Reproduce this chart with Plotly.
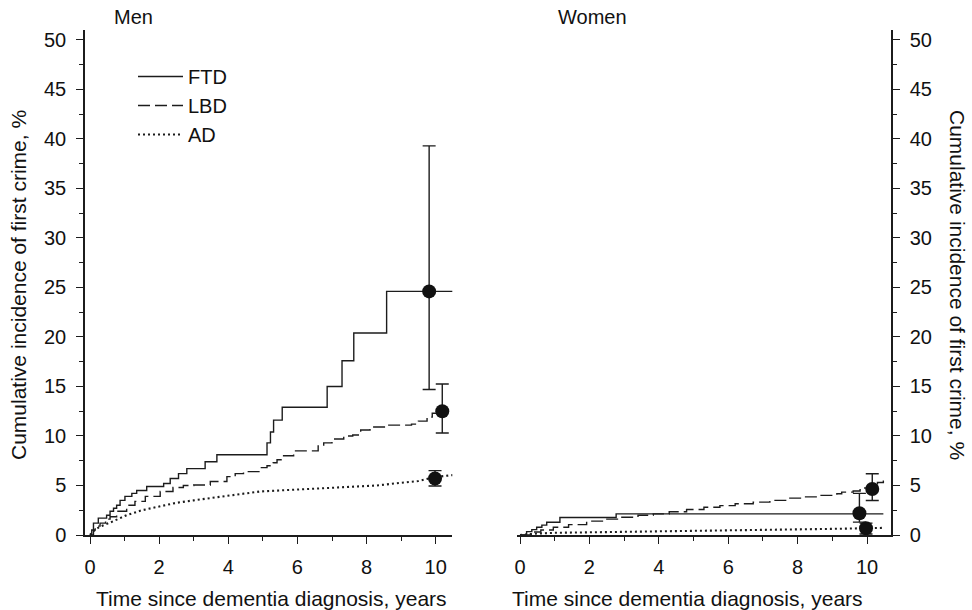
import plotly.graph_objects as go

FONT = "Liberation Sans, Arial, Helvetica, sans-serif"
INK = "#1c1c1c"

# ---------------- data ----------------
# Men, FTD (step function, Kaplan-Meier like)
men_ftd_x = [0, 0.10, 0.24, 0.48, 0.58, 0.68, 0.77, 0.87, 1.01, 1.21, 1.35, 1.64, 2.13, 2.32,
             2.56, 2.80, 3.33, 3.67, 5.12, 5.22, 5.31, 5.56, 6.86, 7.29, 7.63, 8.58, 10.50]
men_ftd_y = [0, 1.2, 1.7, 2.0, 2.4, 2.7, 3.0, 3.5, 3.9, 4.2, 4.5, 4.9, 5.2, 5.7,
             6.2, 6.7, 7.4, 8.1, 9.3, 10.4, 11.6, 12.9, 15.0, 17.6, 20.4, 24.6, 24.6]
# Men, LBD
men_lbd_x = [0, 0.05, 0.15, 0.29, 0.45, 0.58, 0.77, 1.06, 1.30, 1.60, 2.03, 2.40, 2.70, 3.00,
             3.48, 3.96, 4.20, 4.44, 4.93, 5.12, 5.30, 5.41, 5.60, 5.89, 6.38, 6.60, 6.76, 7.00,
             7.34, 7.60, 7.83, 8.10, 8.60, 9.30, 9.50, 9.75, 9.90, 10.22]
men_lbd_y = [0, 0.5, 0.9, 1.2, 1.6, 1.85, 2.4, 3.0, 3.4, 3.9, 4.4, 4.8, 5.0, 5.05,
             5.4, 5.9, 6.2, 6.4, 6.8, 7.0, 7.3, 7.6, 8.0, 8.5, 8.5, 9.0, 9.3, 9.7,
             10.0, 10.1, 10.6, 10.9, 11.1, 11.2, 11.5, 11.9, 12.3, 12.6]
# Men, AD
men_ad_x = [0, 0.10, 0.29, 0.58, 1.06, 1.50, 2.03, 2.50, 3.00, 3.50, 3.96, 4.50, 4.93, 5.50,
            5.89, 6.40, 6.86, 7.40, 7.83, 8.30, 8.80, 9.20, 9.50, 9.80, 10.10, 10.50]
men_ad_y = [0, 0.4, 0.85, 1.25, 2.0, 2.5, 2.9, 3.25, 3.5, 3.75, 4.0, 4.2, 4.4, 4.5,
            4.55, 4.65, 4.7, 4.8, 4.9, 5.0, 5.2, 5.3, 5.45, 5.7, 5.9, 6.05]

# Women, FTD
wom_ftd_x = [0, 0.19, 0.34, 0.48, 0.63, 0.77, 1.15, 2.77, 10.47]
wom_ftd_y = [0, 0.34, 0.54, 0.78, 1.0, 1.29, 1.76, 2.13, 2.13]
# Women, LBD
wom_lbd_x = [0, 0.30, 0.60, 0.96, 1.40, 1.92, 2.40, 2.88, 3.40, 3.84, 4.30, 4.80, 5.30, 5.76,
             6.20, 6.72, 7.20, 7.68, 8.20, 8.65, 9.13, 9.27, 9.60, 9.80, 10.10, 10.30, 10.47]
wom_lbd_y = [0, 0.3, 0.5, 0.78, 1.05, 1.4, 1.6, 1.8, 2.0, 2.13, 2.35, 2.57, 2.8, 2.97,
             3.15, 3.32, 3.5, 3.72, 3.85, 4.0, 4.16, 4.33, 4.45, 4.74, 4.8, 5.3, 5.5]
# Women, AD
wom_ad_x = [0, 0.5, 1, 2, 3, 4, 5, 6, 7, 8, 9, 10, 10.5]
wom_ad_y = [0, 0.15, 0.22, 0.28, 0.32, 0.36, 0.41, 0.46, 0.52, 0.57, 0.62, 0.68, 0.72]

# 10-year estimates with 95% CI: x position, estimate, upper, lower
men_pt_x = [9.81, 10.19, 9.98]
men_pt_y = [24.6, 12.5, 5.7]
men_pt_hi = [39.3, 15.25, 6.5]
men_pt_lo = [14.7, 10.3, 4.95]
wom_pt_x = [9.78, 10.15, 9.97]
wom_pt_y = [2.2, 4.65, 0.68]
wom_pt_hi = [4.2, 6.19, 1.2]
wom_pt_lo = [1.3, 3.48, 0.1]

groups = ["FTD", "LBD", "AD"]
dashes = ["solid", "12px,5px", "2px,3px"]
widths = [1.4, 1.4, 2.1]
shapes = ["hv", "hv", "linear"]

x_ticks = [0, 2, 4, 6, 8, 10]
x_minor = [1, 3, 5, 7, 9]
y_ticks = [0, 5, 10, 15, 20, 25, 30, 35, 40, 45, 50]
y_minor = [2.5, 7.5, 12.5, 17.5, 22.5, 27.5, 32.5, 37.5, 42.5, 47.5]

panel_titles = ["Men", "Women"]
x_title = "Time since dementia diagnosis, years"
y_title = "Cumulative incidence of first crime, %"

# ---------------- figure ----------------
fig = go.Figure()

men_curves = [(men_ftd_x, men_ftd_y), (men_lbd_x, men_lbd_y), (men_ad_x, men_ad_y)]
wom_curves = [(wom_ftd_x, wom_ftd_y), (wom_lbd_x, wom_lbd_y), (wom_ad_x, wom_ad_y)]

for i, (cx, cy) in enumerate(men_curves):
    fig.add_trace(go.Scatter(
        x=cx, y=cy, mode="lines", name=groups[i], legendgroup=groups[i],
        line=dict(color=INK, width=widths[i], dash=dashes[i], shape=shapes[i]),
        xaxis="x", yaxis="y", showlegend=True, hoverinfo="skip"))
for i, (cx, cy) in enumerate(wom_curves):
    fig.add_trace(go.Scatter(
        x=cx, y=cy, mode="lines", name=groups[i], legendgroup=groups[i],
        line=dict(color=INK, width=widths[i], dash=dashes[i], shape=shapes[i]),
        xaxis="x2", yaxis="y2", showlegend=False, hoverinfo="skip"))


def points(px, py, hi, lo, xa, ya):
    fig.add_trace(go.Scatter(
        x=px, y=py, mode="markers", showlegend=False, hoverinfo="skip",
        marker=dict(color="#111111", size=14, line=dict(width=0)),
        error_y=dict(type="data", symmetric=False,
                     array=[h - v for h, v in zip(hi, py)],
                     arrayminus=[v - l for l, v in zip(lo, py)],
                     color=INK, thickness=1.4, width=6.5),
        xaxis=xa, yaxis=ya, cliponaxis=False))


points(men_pt_x, men_pt_y, men_pt_hi, men_pt_lo, "x", "y")
points(wom_pt_x, wom_pt_y, wom_pt_hi, wom_pt_lo, "x2", "y2")

W, H = 972, 610
ML, MR, MT, MB = 85, 81, 30, 75
PW, PH = W - ML - MR, H - MT - MB


def px(xpix):
    return (xpix - ML) / PW


def py(ypix):
    return (H - MB - ypix) / PH


tickfont = dict(family=FONT, size=20, color="#111111")
common_x = dict(tickvals=x_ticks, ticks="outside", ticklen=7, tickwidth=1.4, tickcolor=INK,
                minor=dict(tickvals=x_minor, ticks="outside", ticklen=4, tickwidth=1.4, tickcolor=INK),
                showline=True, linecolor=INK, linewidth=1.5, showgrid=False, zeroline=False,
                tickfont=tickfont, ticklabelstandoff=6)
common_y = dict(tickvals=y_ticks, range=[0, 51], ticks="outside", ticklen=7, tickwidth=1.4, tickcolor=INK,
                minor=dict(tickvals=y_minor, ticks="outside", ticklen=4, tickwidth=1.4, tickcolor=INK),
                showline=True, linecolor=INK, linewidth=1.5, showgrid=False, zeroline=False,
                tickfont=tickfont, ticklabelstandoff=6)

fig.update_layout(
    width=W, height=H, autosize=False,
    margin=dict(l=ML, r=MR, t=MT, b=MB, pad=0),
    paper_bgcolor="white", plot_bgcolor="white",
    font=dict(family=FONT, size=20, color="#111111"),
    xaxis=dict(domain=[0, px(452.3)], range=[-0.145, 10.48], anchor="y", **common_x),
    yaxis=dict(domain=[0, 1], anchor="x", side="left", **common_y),
    xaxis2=dict(domain=[px(517), 1], range=[-0.0865, 10.69], anchor="y2", **common_x),
    yaxis2=dict(domain=[0, 1], anchor="x2", side="right", **common_y),
    legend=dict(x=px(133), y=py(57), xanchor="left", yanchor="top",
                bgcolor="rgba(0,0,0,0)", borderwidth=0, itemwidth=45,
                font=dict(family=FONT, size=20, color="#111111"),
                tracegroupgap=0, itemclick=False, itemdoubleclick=False),
    showlegend=True,
)

ann = [
    dict(text=panel_titles[0], x=px(133), y=py(17)),
    dict(text=panel_titles[1], x=px(592), y=py(17)),
    dict(text=x_title, x=px(271), y=py(598), size=21),
    dict(text=x_title, x=px(687), y=py(598), size=21),
    dict(text=y_title, x=px(18), y=py(285), size=21, angle=-90),
    dict(text=y_title, x=px(958), y=py(285), size=21, angle=90),
]
for a in ann:
    fig.add_annotation(text=a["text"], x=a["x"], y=a["y"], xref="paper", yref="paper",
                       xanchor="center", yanchor="middle", showarrow=False,
                       textangle=a.get("angle", 0),
                       font=dict(family=FONT, size=a.get("size", 20), color="#111111"))

fig.write_html("out.html", config={"displayModeBar": False},
               post_script="document.body.style.margin='0';")
